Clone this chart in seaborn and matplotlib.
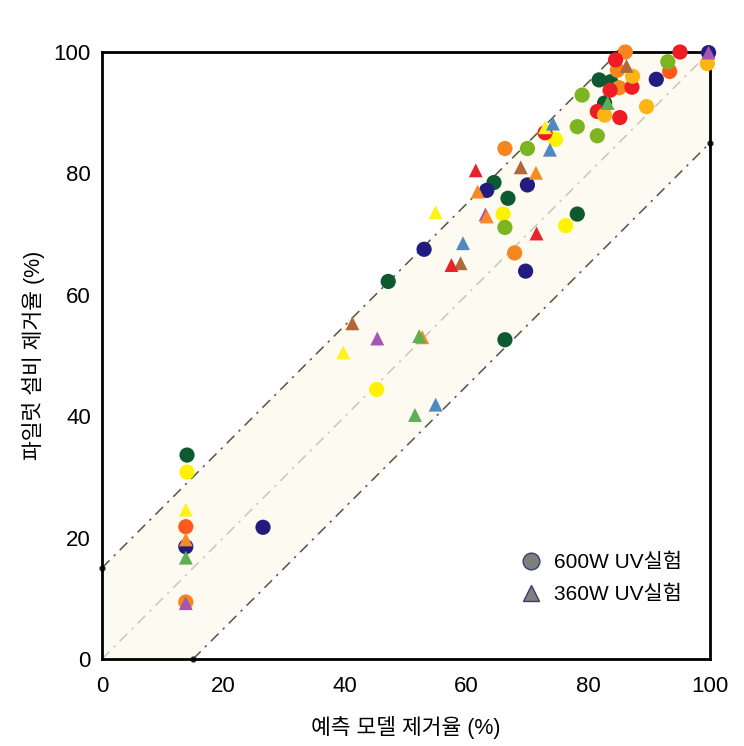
import pandas as pd
import numpy as np
import matplotlib.pyplot as plt
import seaborn as sns
from matplotlib.lines import Line2D

# 600W UV 실험 (원형) - 색상별 (예측, 파일럿)
c_darkgreen = [(14.0, 33.6), (47.1, 62.2), (66.3, 52.6), (64.5, 78.5), (66.8, 75.9),
               (78.2, 73.3), (81.8, 95.4), (83.7, 95.1), (82.7, 91.6)]
c_yellow = [(14.0, 30.8), (45.2, 44.4), (66.0, 73.3), (74.6, 85.6), (76.3, 71.4)]
c_orangered = [(13.8, 21.8), (93.4, 96.8)]
c_navy = [(13.8, 18.5), (26.5, 21.7), (53.0, 67.5), (63.3, 77.2), (70.0, 78.1),
          (69.7, 63.9), (91.2, 95.5), (99.8, 99.9)]
c_orange = [(13.8, 9.4), (67.9, 66.9), (66.3, 84.1), (86.1, 100.0), (84.8, 97.0), (85.1, 94.1)]
c_lime = [(66.3, 71.1), (70.0, 84.1), (78.2, 87.7), (79.0, 92.9), (81.5, 86.2), (93.1, 98.4)]
c_red = [(84.5, 98.7), (83.6, 93.7), (87.2, 94.2), (81.5, 90.2), (85.2, 89.2),
         (95.1, 100.0), (72.9, 86.7)]
c_gold = [(87.3, 96.0), (82.7, 89.6), (89.6, 91.0), (99.6, 98.1)]

# 360W UV 실험 (삼각형)
t_yellow = [(13.8, 24.6), (39.7, 50.5), (54.9, 73.6), (72.9, 87.6)]
t_orange = [(13.8, 19.7), (52.7, 53.0), (61.8, 77.0), (63.3, 72.9), (71.4, 80.1)]
t_green = [(13.8, 16.7), (52.2, 53.2), (51.5, 40.2), (83.2, 91.6)]
t_purple = [(13.8, 9.2), (45.3, 52.8), (99.8, 99.9)]
t_purple_back = [(63.0, 73.3)]
t_brown = [(41.2, 55.3), (59.0, 65.2), (68.9, 81.0), (86.3, 97.7)]
t_red = [(61.5, 80.5), (57.5, 64.9), (71.5, 70.1)]
t_blue = [(59.4, 68.5), (54.9, 41.9), (74.2, 88.2), (73.7, 83.9)]

ticks = [0, 20, 40, 60, 80, 100]
legend_labels = ['600W UV실험', '360W UV실험']

colors = {
    'darkgreen': '#0e5a30', 'yellow': '#fff200', 'orangered': '#ff5a1e',
    'navy': '#211c7e', 'orange': '#f7861f', 'lime': '#7db522', 'red': '#ee1d25',
    'gold': '#fdb515', 't_yellow': '#fff21a', 't_orange': '#f78a24',
    't_green': '#5daf4f', 't_purple': '#a457b2', 't_brown': '#b0683a',
    't_red': '#e8232a', 't_blue': '#5088c1',
}

rows = []
def add(pts, key, test):
    for x, y in pts:
        rows.append({'pred': x, 'pilot': y, 'color': key, 'test': test})

add(c_darkgreen, 'darkgreen', '600W')
add(c_yellow, 'yellow', '600W')
add(c_orangered, 'orangered', '600W')
add(c_navy, 'navy', '600W')
add(c_orange, 'orange', '600W')
add(c_lime, 'lime', '600W')
add(c_red, 'red', '600W')
add(c_gold, 'gold', '600W')
add(t_yellow, 't_yellow', '360W')
add(t_orange, 't_orange', '360W')
add(t_green, 't_green', '360W')
add(t_purple, 't_purple', '360W')
add(t_brown, 't_brown', '360W')
add(t_red, 't_red', '360W')
add(t_blue, 't_blue', '360W')
df = pd.DataFrame(rows)
back = pd.DataFrame([{'pred': x, 'pilot': y, 'color': 't_purple'} for x, y in t_purple_back])

sns.set_style('white')
plt.rcParams['font.family'] = ['Liberation Sans', 'Noto Sans CJK KR', 'DejaVu Sans']
for k in ['text.color', 'axes.labelcolor', 'xtick.color', 'ytick.color']:
    plt.rcParams[k] = 'black'

fig = plt.figure(figsize=(7.44, 7.46), dpi=100)
ax = fig.add_axes([0.137, 0.1166, 0.817, 0.8137])

# ±15% 범위
dash = (0, (7, 4, 1.5, 4))
ax.fill([0, 0, 85, 100, 100, 15], [0, 15, 100, 100, 85, 0], color='#fdfaf1', zorder=0)
ax.plot([0, 85], [15, 100], color='#555544', lw=1.1, ls=dash, zorder=1)
ax.plot([15, 100], [0, 85], color='#555544', lw=1.1, ls=dash, zorder=1)
ax.plot([0, 100], [0, 100], color='#c8c8b8', lw=1.1, ls=dash, zorder=1)
ax.scatter([0, 85, 15, 100], [15, 100, 0, 85], s=12, color='#222222', zorder=2, clip_on=False)

# 뒤에 가려진 보라색 삼각형
sns.scatterplot(data=back, x='pred', y='pilot', hue='color', palette=colors,
                marker='^', s=100, linewidth=0, legend=False, ax=ax, zorder=2.5)
for test, mk, sz in [('600W', 'o', 120), ('360W', '^', 100)]:
    sub = df[df['test'] == test]
    sns.scatterplot(data=sub, x='pred', y='pilot', hue='color', palette=colors,
                    marker=mk, s=sz, linewidth=0, legend=False, ax=ax,
                    zorder=3, clip_on=False)

ax.set_xlim(0, 100)
ax.set_ylim(0, 100)
ax.set_xticks(ticks)
ax.set_yticks(ticks)
ax.tick_params(labelsize=16, length=0)
ax.tick_params(axis='x', pad=12)
ax.tick_params(axis='y', pad=8)
for s in ax.spines.values():
    s.set_color('black')
    s.set_linewidth(2)
ax.set_xlabel('예측 모델 제거율 (%)', fontsize=15.5, labelpad=14)
ax.set_ylabel('파일럿 설비 제거율 (%)', fontsize=15.5, labelpad=6)

handles = [
    Line2D([], [], marker='o', ls='none', markersize=12, markerfacecolor='#7f7f7f',
           markeredgecolor='#3b3b70', markeredgewidth=1),
    Line2D([], [], marker='^', ls='none', markersize=12, markerfacecolor='#7f7f7f',
           markeredgecolor='#3b3b70', markeredgewidth=1),
]
ax.legend(handles, legend_labels, loc='lower right',
          bbox_to_anchor=(0.985, 0.06), frameon=False, fontsize=15,
          handlelength=1.0, handletextpad=0.6, labelspacing=0.6)

fig.savefig('out.png', dpi=100)
